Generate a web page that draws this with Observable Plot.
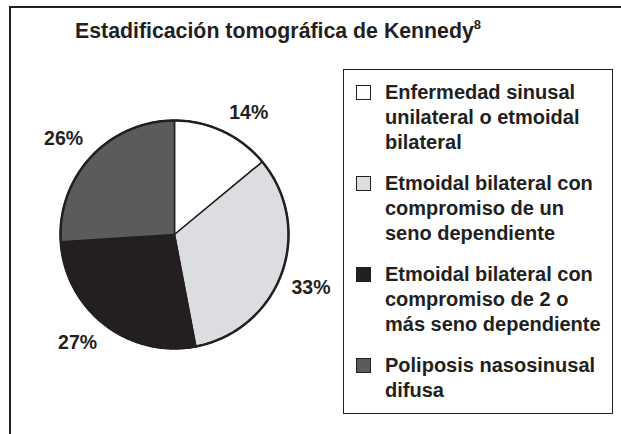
<!DOCTYPE html>
<html>
<head>
<meta charset="utf-8">
<script src="https://cdn.jsdelivr.net/npm/d3@7"></script>
<script src="https://cdn.jsdelivr.net/npm/@observablehq/plot@0.6"></script>
<style>
  html, body { margin: 0; padding: 0; background: #fff; overflow: hidden; width: 621px; height: 434px; }
  body { position: relative; font-family: "Liberation Sans", Arial, Helvetica, sans-serif; color: #231f20; }
  #frame { position: absolute; left: 9px; top: 6px; width: 800px; height: 600px; border-left: 2.5px solid #231f20; border-top: 2.5px solid #231f20; }
  #title { position: absolute; left: 75px; top: 21px; font-size: 21.3px; line-height: 21px; font-weight: bold; white-space: nowrap; }
  #title sup { font-size: 13px; line-height: 0; position: relative; top: -1px; }
  #pie { position: absolute; left: 4px; top: 64px; }
  #legend { position: absolute; left: 343px; top: 69px; width: 270px; height: 345px; box-sizing: border-box; border: 1.5px solid #231f20; padding: 10px 0 0 12px; }
  .item { display: flex; align-items: flex-start; margin-bottom: 16px; }
  .sw { width: 15px; height: 15px; box-sizing: border-box; border: 1.5px solid #231f20; margin-top: 5px; margin-right: 14px; flex: none; }
  .lbl { font-size: 20px; line-height: 25px; font-weight: bold; white-space: pre; }
</style>
</head>
<body>
<div id="frame"></div>
<div id="title">Estadificación tomográfica de Kennedy<sup>8</sup></div>
<div id="pie"></div>
<div id="legend"></div>
<script>
// ---- data ----
const categories = [
  "Enfermedad sinusal\nunilateral o etmoidal\nbilateral",
  "Etmoidal bilateral con\ncompromiso de un\nseno dependiente",
  "Etmoidal bilateral con\ncompromiso de 2 o\nmás seno dependiente",
  "Poliposis nasosinusal\ndifusa"
];
const percents = [14, 33, 27, 26];
const colors = ["#ffffff", "#dcdde0", "#231f20", "#5a5b5d"];

// ---- geometry from data ----
const rows = categories.map((c, i) => ({cat: c, value: percents[i]}));
const arcs = d3.pie().sort(null).value(d => d.value).startAngle(0).endAngle(2 * Math.PI)(rows);

const slicePts = [];
for (const a of arcs) {
  slicePts.push({cat: a.data.cat, x: 0, y: 0});
  const n = Math.max(2, Math.ceil((a.endAngle - a.startAngle) / (Math.PI / 180)));
  for (let k = 0; k <= n; k++) {
    const t = a.startAngle + (a.endAngle - a.startAngle) * k / n;
    slicePts.push({cat: a.data.cat, x: Math.sin(t), y: Math.cos(t)});
  }
  slicePts.push({cat: a.data.cat, x: 0, y: 0});
}
const circlePts = d3.range(0, 361).map(d => ({x: Math.sin(d * Math.PI / 180), y: Math.cos(d * Math.PI / 180)}));

const rAnchor = 1.06, hw = 0.2, hh = 0.11;
const labels = arcs.map(a => {
  const m = (a.startAngle + a.endAngle) / 2;
  const sx = Math.sin(m), cy = Math.cos(m);
  return {
    text: a.data.value + "%",
    x: rAnchor * sx + Math.sign(sx) * hw,
    y: rAnchor * cy + Math.sign(cy) * hh
  };
});

const S = 340, R = 114, half = (S / 2) / R;
const chart = Plot.plot({
  width: S, height: S,
  margin: 0,
  x: {domain: [-half, half], axis: null},
  y: {domain: [-half, half], axis: null},
  color: {domain: categories, range: colors},
  style: {background: "transparent", color: "#231f20"},
  marks: [
    Plot.line(slicePts, {x: "x", y: "y", z: "cat", fill: "cat", stroke: "#231f20", strokeWidth: 1.5, strokeLinejoin: "miter", curve: "linear"}),
    Plot.line(circlePts, {x: "x", y: "y", stroke: "#231f20", strokeWidth: 2.5, fill: "none"}),
    Plot.text(labels, {x: "x", y: "y", text: "text", fontSize: 19.5, fontWeight: "bold", fill: "#231f20", fontFamily: "Liberation Sans, Arial, sans-serif"})
  ]
});
document.getElementById("pie").appendChild(chart);

// ---- legend ----
const legend = document.getElementById("legend");
categories.forEach((c, i) => {
  const item = document.createElement("div");
  item.className = "item";
  const sw = document.createElement("div");
  sw.className = "sw";
  sw.style.background = colors[i];
  const lbl = document.createElement("div");
  lbl.className = "lbl";
  lbl.textContent = c;
  item.appendChild(sw);
  item.appendChild(lbl);
  legend.appendChild(item);
});
</script>
</body>
</html>
